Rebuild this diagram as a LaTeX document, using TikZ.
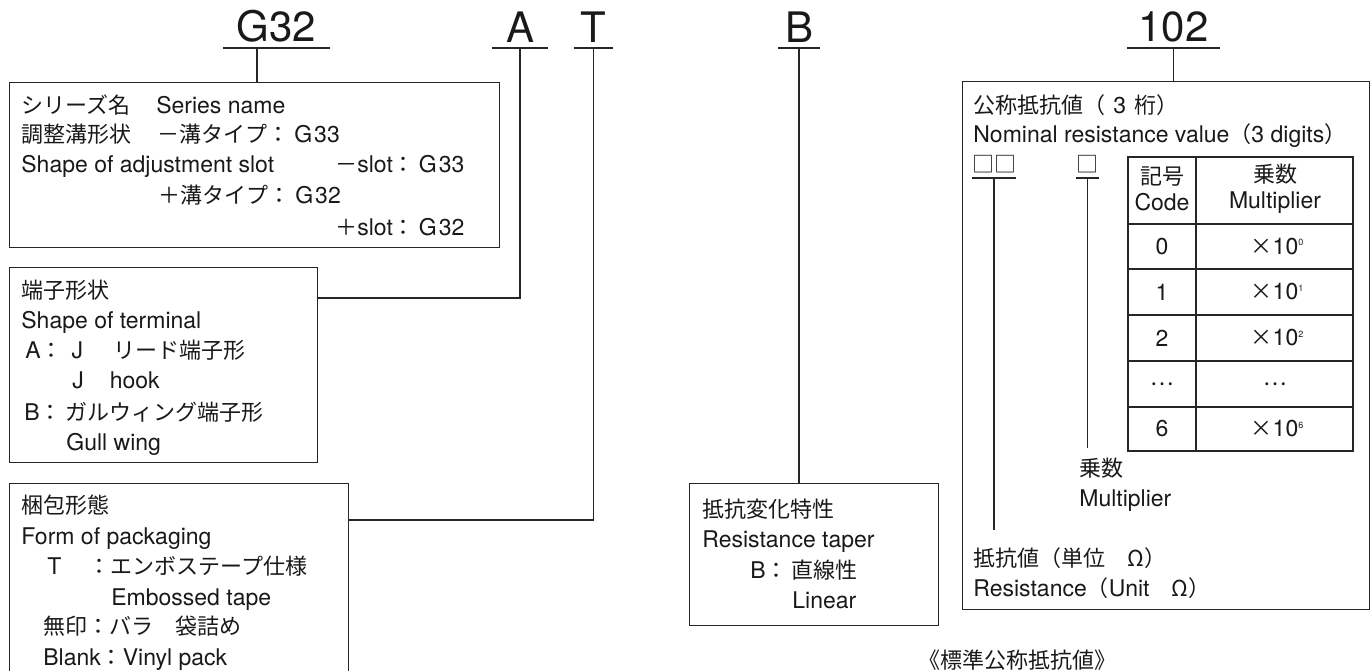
\documentclass[tikz,border=0pt]{standalone}
\usepackage{fontspec}
\setmainfont{TeX Gyre Heros}
\newfontfamily\jpfont[Scale=0.9565]{Noto Sans CJK JP}
\newcommand{\jp}[1]{{\jpfont #1}}
\newcommand{\supr}[1]{{\fontsize{9}{9}\selectfont\raisebox{8.5pt}{#1}}}
\tikzset{every picture/.style={line width=0.75pt}}

\begin{document}
\begin{tikzpicture}[x=1pt,y=1pt,yscale=-1,xscale=1,
  frame/.style={draw=black!85, line width=1.1pt},
  box/.style={frame, anchor=north west, inner sep=0pt},
  txt/.style={anchor=base west, inner sep=0pt, text=black!90, font=\fontsize{23}{26}\selectfont},
  code/.style={anchor=south, inner xsep=0pt, inner ysep=5pt, text=black!90, font=\fontsize{42}{42}\selectfont},
  sq/.style={anchor=south, inner xsep=0pt, inner ysep=5pt, text=black!90, font=\fontsize{23}{26}\selectfont},
  cell/.style={inner sep=0pt, text=black!90, font=\fontsize{23}{26}\selectfont}]
\useasboundingbox (0,0) rectangle (1372,671);

%Code letters
\node[code, minimum width=107pt] (g32) at (276.5,48) {G32};
\node[code, minimum width=56pt] (a) at (520,48) {A};
\node[code, minimum width=39pt] (t) at (593.5,48) {T};
\node[code, minimum width=41pt] (b) at (799,48) {B};
\node[code, minimum width=92pt] (n102) at (1173.5,48) {102};
\foreach \c in {g32,a,t,b,n102}
  \draw[frame] (\c.south west) -- (\c.south east);

%Shape: Rectangle
\node[box, minimum width=490pt, minimum height=165pt] (series) at (9,82) {};
%Shape: Rectangle
\node[box, minimum width=308pt, minimum height=195pt] (terminal) at (9,267) {};
%Shape: Rectangle
\node[box, minimum width=339pt, minimum height=220pt] (packing) at (9,483) {};
%Shape: Rectangle
\node[box, minimum width=249pt, minimum height=142pt] (taper) at (689,483) {};
%Shape: Rectangle
\node[box, minimum width=407pt, minimum height=528pt] (value) at (962,81) {};

%Straight Lines
\draw[frame] ([xshift=-19.5pt]g32.south) -- ([xshift=-19.5pt]g32.south |- series.north);
\draw[frame] (a.south) |- ([yshift=31pt]terminal.north east);
\draw[frame] (t.south) |- ([yshift=37pt]packing.north east);
\draw[frame] (b.south) -- (b.south |- taper.north);
\draw[frame] (n102.south) -- (n102.south |- value.north);

% Text Node
\node[txt] (sername) at (21,114) {\jp{シリーズ名}\hspace{26pt}Series name};
\node[txt] (slotjp) at (21,143) {\jp{調整溝形状}\hspace{26pt}\jp{－溝タイプ：}\hspace{5pt}G\hspace{2pt}33};
\node[txt] (sloten) at (21,173) {Shape of adjustment slot};
\node[txt] (slotminus) at (335,173) {\jp{－}slot\jp{：}\hspace{4pt}G\hspace{2pt}33};
\node[txt] (slotplus) at (158,203) {\jp{＋溝タイプ：}\hspace{5pt}G\hspace{2pt}32};
\node[txt] (slotplusen) at (335,235) {\jp{＋}slot\jp{：}\hspace{4pt}G\hspace{2pt}32};

% Text Node
\node[txt] (termjp) at (21,298) {\jp{端子形状}};
\node[txt] (termen) at (21,328) {Shape of terminal};
\node[txt] (terma) at (25,358) {A\jp{：}\hspace{9pt}J\hspace{30pt}\jp{リード端子形}};
\node[txt] (termaen) at (72,388) {J\hspace{26pt}hook};
\node[txt] (termb) at (24,420) {B\jp{：}\hspace{4pt}\jp{ガルウィング端子形}};
\node[txt] (termben) at (66,450) {Gull wing};

% Text Node
\node[txt] (packjp) at (21,513) {\jp{梱包形態}};
\node[txt] (packen) at (21,544) {Form of packaging};
\node[txt] (packt) at (47,574) {T\hspace{27pt}\jp{：エンボステープ仕様}};
\node[txt] (packten) at (111,605) {Embossed tape};
\node[txt] (packnone) at (43,634) {\jp{無印：バラ　袋詰め}};
\node[txt] (packnoneen) at (43,665) {Blank\jp{：}Vinyl pack};

% Text Node
\node[txt] (taperjp) at (702,517) {\jp{抵抗変化特性}};
\node[txt] (taperen) at (702,547) {Resistance taper};
\node[txt] (taperb) at (750,578) {B\jp{：}\hspace{4pt}\jp{直線性}};
\node[txt] (taperben) at (792,608) {Linear};

% Text Node
\node[txt] (valjp) at (973,114) {\jp{公称抵抗値（}\hspace{8pt}3\hspace{8pt}\jp{桁）}};
\node[txt] (valen) at (973,143) {Nominal resistance value\jp{（}3 digits\jp{）}};
\node[sq, minimum width=42pt] (sqa) at (994,178) {\jp{□□}};
\node[sq, minimum width=23pt] (sqb) at (1087.5,178) {\jp{□}};
\draw[frame] (sqa.south west) -- (sqa.south east);
\draw[frame] (sqb.south west) -- (sqb.south east);
\node[txt] (multjp) at (1079,476) {\jp{乗数}};
\node[txt] (multen) at (1079,506) {Multiplier};
\node[txt] (resjp) at (973,566) {\jp{抵抗値（単位　Ω）}};
\node[txt] (resen) at (973,596) {Resistance\jp{（}Unit\jp{　Ω）}};
\draw[frame, shorten >=17pt] (sqa.south) -- (sqa.south |- resjp.north);
\draw[frame, shorten >=9pt] (sqb.south) -- (sqb.south |- multjp.north);

%Table
\draw[frame] (1128,157) rectangle (1353,451);
\draw[frame] (1196,157) -- (1196,451);
\foreach \y in {224,269,315,361,407}
  \draw[frame] (1128,\y) -- (1353,\y);
\node[cell, align=center] (codehead) at (1162,189) {\jp{記号}\\Code};
\node[cell, align=center] (multhead) at (1275,189) {\jp{乗数}\\Multiplier};
\foreach \c/\y [count=\i] in {0/246.5,1/292,2/338,6/429} {
  \node[cell] (code\i) at (1162,\y) {\c};
  \node[cell] (mult\i) at (1277,\y) {\jp{×}10\supr{\c}};
}
\node[cell] (codedots) at (1162,384) {\jp{…}};
\node[cell] (multdots) at (1275,384) {\jp{…}};

% Text Node
\node[txt] (caption) at (918,668) {\jp{《標準公称抵抗値》}};

\end{tikzpicture}
\end{document}
